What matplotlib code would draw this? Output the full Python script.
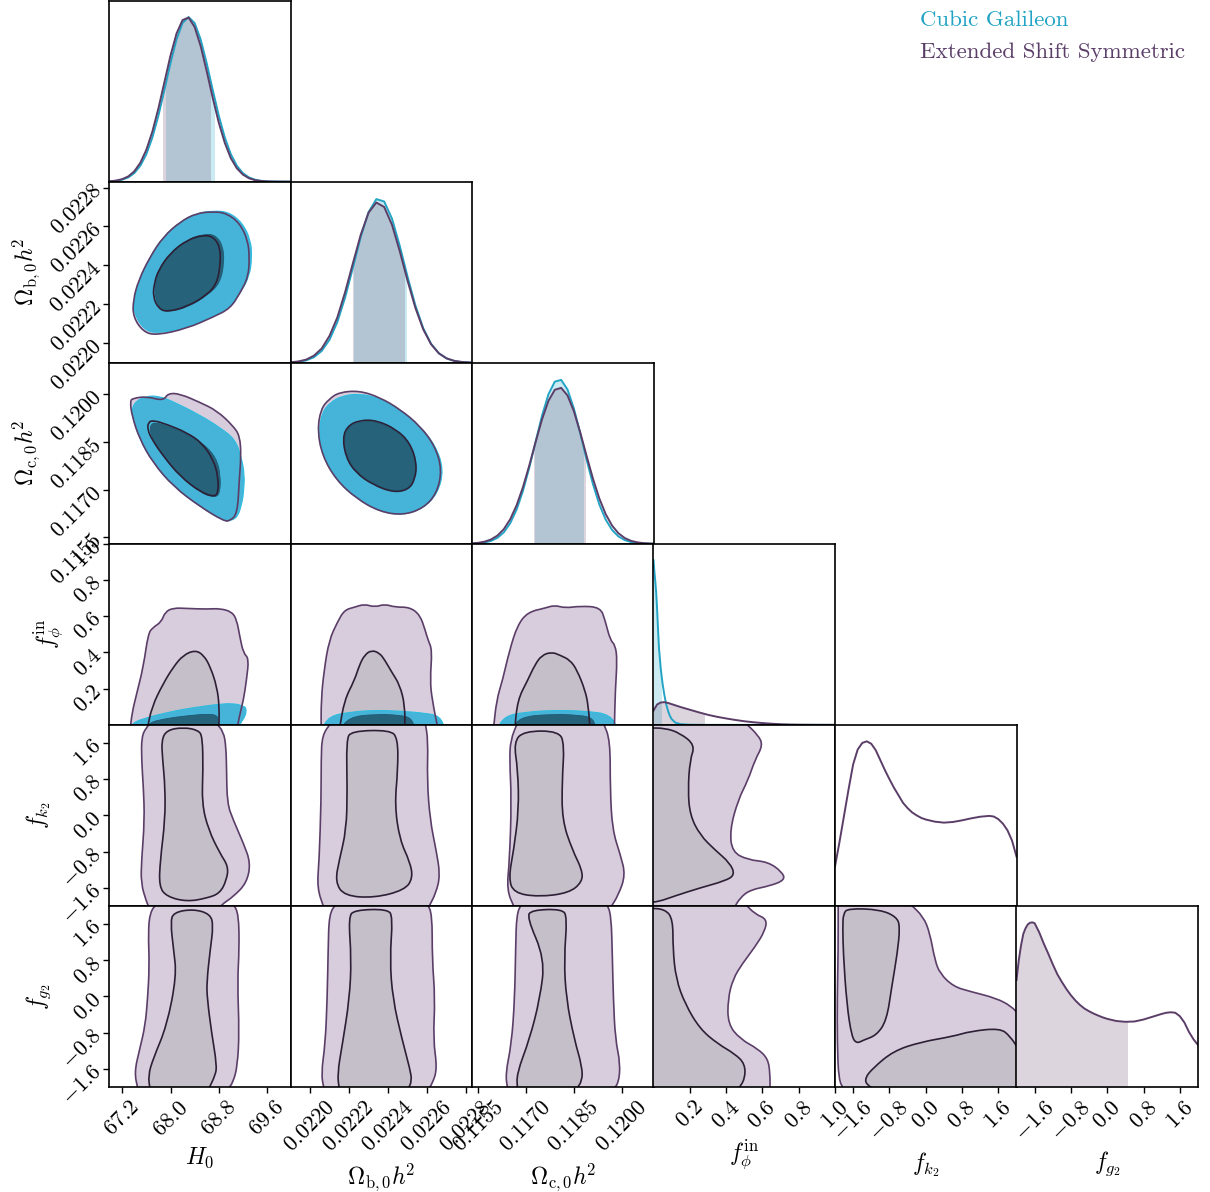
import matplotlib
matplotlib.use("Agg")
import matplotlib.pyplot as plt
from matplotlib.patches import PathPatch, Rectangle
from matplotlib.path import Path

plt.rcParams.update({
    "font.family": "serif",
    "font.serif": ["cmr10"],
    "mathtext.fontset": "cm",
    "axes.unicode_minus": False,
    "font.size": 16,
})

# ---------------------------------------------------------------- parameters
PARAM_LABELS = [r"$H_0$", r"$\Omega_{\rm b,0}h^{\!2}$", r"$\Omega_{\rm c,0}h^{\!2}$",
                r"$f_\phi^{\rm in}$", r"$f_{k_2}$", r"$f_{g_2}$"]
LIMITS = [(66.98, 69.99), (0.02190, 0.02283), (0.11530, 0.12100),
          (0.0, 1.0), (-2.0, 2.0), (-2.0, 2.0)]
TICKS = [[67.2, 68.0, 68.8, 69.6],
         [0.0220, 0.0222, 0.0224, 0.0226, 0.0228],
         [0.1155, 0.1170, 0.1185, 0.1200],
         [0.2, 0.4, 0.6, 0.8, 1.0],
         [-1.6, -0.8, 0.0, 0.8, 1.6],
         [-1.6, -0.8, 0.0, 0.8, 1.6]]
TICK_LABELS = [["67.2", "68.0", "68.8", "69.6"],
               ["0.0220", "0.0222", "0.0224", "0.0226", "0.0228"],
               ["0.1155", "0.1170", "0.1185", "0.1200"],
               ["0.2", "0.4", "0.6", "0.8", "1.0"],
               ["-1.6", "-0.8", "0.0", "0.8", "1.6"],
               ["-1.6", "-0.8", "0.0", "0.8", "1.6"]]

# ---------------------------------------------------------------- 1D marginals
H0_GRID = [66.9, 67.0, 67.1, 67.2, 67.3, 67.4, 67.5, 67.6, 67.7, 67.8, 67.9,
           68.0, 68.1, 68.2, 68.3, 68.4, 68.5, 68.6, 68.7, 68.8, 68.9, 69.0,
           69.1, 69.2, 69.3, 69.4, 69.5, 69.6, 69.7, 69.8, 69.9, 70.0]
ESS_H0_PDF = [0.0011, 0.0028, 0.0068, 0.0153, 0.032, 0.063, 0.115, 0.194,
              0.305, 0.446, 0.606, 0.766, 0.900, 0.982, 0.997, 0.940, 0.824,
              0.672, 0.510, 0.359, 0.236, 0.143, 0.081, 0.043, 0.021, 0.0095,
              0.004, 0.0016, 0.0006, 0.0002, 0.0001, 0.0]
CG_H0_PDF = [0.0008, 0.0021, 0.0052, 0.0121, 0.026, 0.052, 0.097, 0.167,
             0.269, 0.402, 0.558, 0.720, 0.864, 0.964, 1.0, 0.964, 0.864,
             0.720, 0.558, 0.402, 0.269, 0.167, 0.097, 0.052, 0.026, 0.0121,
             0.0052, 0.0021, 0.0008, 0.0003, 0.0001, 0.0]

OMB_GRID = [0.02186, 0.02190, 0.02194, 0.02198, 0.02202, 0.02206, 0.02210,
            0.02214, 0.02218, 0.02222, 0.02226, 0.02230, 0.02234, 0.02238,
            0.02242, 0.02246, 0.02250, 0.02254, 0.02258, 0.02262, 0.02266,
            0.02270, 0.02274, 0.02278, 0.02282, 0.02286]
ESS_OMB_PDF = [0.0010, 0.0028, 0.0077, 0.0188, 0.0428, 0.0867, 0.1635, 0.2754,
               0.4294, 0.6053, 0.7780, 0.9118, 0.9731, 0.9464, 0.8381, 0.6768,
               0.4975, 0.3331, 0.2031, 0.1130, 0.0572, 0.0264, 0.0111, 0.0043,
               0.0015, 0.0005]
CG_OMB_PDF = [0.0006, 0.0019, 0.0054, 0.0140, 0.0333, 0.0715, 0.1397, 0.2473,
              0.3969, 0.5781, 0.7637, 0.9149, 0.9941, 0.9796, 0.8754, 0.7098,
              0.5219, 0.3478, 0.2103, 0.1154, 0.0574, 0.0259, 0.0106, 0.0039,
              0.0013, 0.0004]

OMC_GRID = [0.1151, 0.1153, 0.1155, 0.1157, 0.1159, 0.1161, 0.1163, 0.1165,
            0.1167, 0.1169, 0.1171, 0.1173, 0.1175, 0.1177, 0.1179, 0.1181,
            0.1183, 0.1185, 0.1187, 0.1189, 0.1191, 0.1193, 0.1195, 0.1197,
            0.1199, 0.1201, 0.1203, 0.1205, 0.1207, 0.1209, 0.1211]
ESS_OMC_PDF = [0.0012, 0.0027, 0.0061, 0.0132, 0.0265, 0.0502, 0.0892, 0.1490,
               0.2336, 0.3441, 0.4763, 0.6193, 0.7564, 0.8680, 0.9356, 0.9473,
               0.9011, 0.8051, 0.6759, 0.5330, 0.3949, 0.2747, 0.1796, 0.1103,
               0.0637, 0.0345, 0.0176, 0.0085, 0.0038, 0.0016, 0.0007]
CG_OMC_PDF = [0.0005, 0.0013, 0.0034, 0.0080, 0.0177, 0.0365, 0.0698, 0.1249,
              0.2075, 0.3213, 0.4636, 0.6228, 0.7792, 0.9079, 0.9851, 0.9957,
              0.9372, 0.8216, 0.6710, 0.5105, 0.3612, 0.2383, 0.1465, 0.0838,
              0.0447, 0.0222, 0.0102, 0.0044, 0.0018, 0.0007, 0.0002]

CG_FPHI_GRID = [0.0, 0.005, 0.010, 0.015, 0.020, 0.025, 0.030, 0.040, 0.050,
                0.060, 0.070, 0.080, 0.090, 0.100, 0.120, 0.150, 0.200, 0.300, 1.0]
CG_FPHI_PDF = [1.0, 0.93, 0.87, 0.80, 0.70, 0.58, 0.47, 0.34, 0.25, 0.18,
               0.125, 0.085, 0.055, 0.035, 0.014, 0.004, 0.001, 0.0, 0.0]
ESS_FPHI_GRID = [0.0, 0.02, 0.04, 0.06, 0.08, 0.10, 0.15, 0.20, 0.25, 0.30,
                 0.35, 0.40, 0.45, 0.50, 0.55, 0.60, 0.65, 0.70, 0.75, 0.80,
                 0.90, 1.0]
ESS_FPHI_PDF = [0.087, 0.124, 0.136, 0.138, 0.133, 0.126, 0.108, 0.092, 0.076,
                0.061, 0.049, 0.039, 0.030, 0.022, 0.016, 0.011, 0.007, 0.004,
                0.002, 0.001, 0.0002, 0.0]

FK2_GRID = [-2.0, -1.9, -1.8, -1.7, -1.6, -1.5, -1.4, -1.3, -1.2, -1.1, -1.0,
            -0.9, -0.8, -0.7, -0.6, -0.5, -0.4, -0.3, -0.2, -0.1, 0.0, 0.2,
            0.4, 0.6, 0.8, 1.0, 1.2, 1.4, 1.5, 1.6, 1.7, 1.8, 1.9, 2.0]
ESS_FK2_PDF = [0.24, 0.39, 0.55, 0.71, 0.86, 0.95, 0.99, 1.0, 0.985, 0.945,
               0.885, 0.825, 0.77, 0.718, 0.672, 0.626, 0.594, 0.568, 0.550,
               0.535, 0.525, 0.512, 0.506, 0.510, 0.520, 0.532, 0.542, 0.547,
               0.543, 0.527, 0.500, 0.460, 0.398, 0.30]

FG2_GRID = [-2.0, -1.95, -1.9, -1.85, -1.8, -1.75, -1.7, -1.65, -1.6, -1.5,
            -1.4, -1.3, -1.2, -1.1, -1.0, -0.9, -0.8, -0.7, -0.6, -0.5, -0.4,
            -0.3, -0.2, -0.1, 0.0, 0.2, 0.4, 0.6, 0.8, 1.0, 1.2, 1.3, 1.4, 1.5,
            1.6, 1.7, 1.8, 1.9, 2.0]
ESS_FG2_PDF = [0.65, 0.77, 0.86, 0.93, 0.965, 0.988, 0.998, 1.0, 0.995, 0.94,
               0.872, 0.81, 0.745, 0.685, 0.638, 0.595, 0.557, 0.525, 0.498,
               0.476, 0.46, 0.446, 0.434, 0.423, 0.414, 0.401, 0.396, 0.398,
               0.41, 0.427, 0.444, 0.451, 0.454, 0.451, 0.43, 0.392, 0.335,
               0.29, 0.255]

# 68% credible intervals shaded under the 1D curves
CG_INTERVALS = {0: (67.93, 68.72), 1: (0.022225, 0.02249), 2: (0.11727, 0.11878),
                3: (0.0, 0.042)}
ESS_INTERVALS = {0: (67.87, 68.66), 1: (0.02222, 0.02248), 2: (0.11724, 0.11884),
                 3: (0.0, 0.28), 5: (-2.0, 0.43)}

# ---------------------------------------------------------------- 2D contours
# Cubic Galileon
CG_H0_OMB_95 = [(67.40, 0.022150), (67.56, 0.022070), (67.78, 0.022050), (68.27, 0.022080),
                (68.71, 0.022140), (68.99, 0.022185), (69.16, 0.022260), (69.31, 0.022345),
                (69.35, 0.022440), (69.33, 0.022530), (69.19, 0.022620), (68.96, 0.022675),
                (68.71, 0.022680), (68.43, 0.022668), (68.16, 0.022624), (67.88, 0.022547),
                (67.66, 0.022444), (67.48, 0.022324), (67.40, 0.022225)]
CG_H0_OMB_68 = [(67.74, 0.022235), (67.83, 0.022175), (67.97, 0.022160), (68.30, 0.022187),
                (68.63, 0.022250), (68.82, 0.022310), (68.89, 0.022410), (68.87, 0.022500),
                (68.75, 0.022555), (68.57, 0.022562), (68.29, 0.022535), (68.01, 0.022465),
                (67.82, 0.022378), (67.75, 0.022307)]
CG_H0_OMC_95 = [(67.38, 0.11973), (67.60, 0.11996), (67.83, 0.11994), (68.05, 0.11977),
                (68.49, 0.11935), (68.82, 0.11896), (69.07, 0.11859), (69.17, 0.11806),
                (69.23, 0.11747), (69.21, 0.11689), (69.19, 0.11663), (69.12, 0.11615),
                (68.99, 0.11602), (68.88, 0.11602), (68.49, 0.11647), (68.05, 0.11710),
                (67.71, 0.11785), (67.49, 0.11859), (67.36, 0.11933)]
CG_H0_OMC_68 = [(67.67, 0.11905), (67.75, 0.11912), (67.96, 0.11900), (68.28, 0.11875),
                (68.55, 0.11845), (68.76, 0.11800), (68.83, 0.11745), (68.82, 0.11690),
                (68.74, 0.11675), (68.50, 0.11690), (68.18, 0.11740), (67.90, 0.11803),
                (67.72, 0.11855), (67.66, 0.11885)]
CG_OMB_OMC_95 = [(0.022045, 0.11880), (0.022062, 0.11945), (0.022105, 0.11975),
                 (0.022160, 0.11995), (0.022253, 0.12003), (0.022357, 0.11988),
                 (0.022460, 0.11954), (0.022564, 0.11901), (0.022645, 0.11837),
                 (0.022685, 0.11763), (0.022655, 0.11689), (0.022581, 0.11642),
                 (0.022477, 0.11620), (0.022357, 0.11631), (0.022236, 0.11673),
                 (0.022133, 0.11732), (0.022066, 0.11806)]
CG_OMB_OMC_68 = [(0.022172, 0.11862), (0.022197, 0.11898), (0.022255, 0.11915),
                 (0.022340, 0.11915), (0.022440, 0.11887), (0.022508, 0.11846),
                 (0.022543, 0.11785), (0.022535, 0.11734), (0.022500, 0.11703),
                 (0.022426, 0.11695), (0.022324, 0.11719), (0.022240, 0.11755),
                 (0.022190, 0.11800)]
CG_H0_FPHI_95 = [(67.36, -0.03), (67.36, 0.012), (67.66, 0.045), (67.94, 0.067),
                 (68.21, 0.086), (68.49, 0.100), (68.77, 0.113), (69.04, 0.119),
                 (69.21, 0.104), (69.26, 0.091), (69.24, 0.045), (69.15, 0.008),
                 (69.15, -0.03)]
CG_H0_FPHI_68 = [(67.63, -0.03), (67.63, 0.012), (67.94, 0.036), (68.27, 0.050),
                 (68.60, 0.060), (68.77, 0.054), (68.79, 0.026), (68.77, -0.03)]
CG_OMB_FPHI_95 = [(0.022057, -0.03), (0.022098, 0.048), (0.022202, 0.070),
                  (0.022331, 0.081), (0.022460, 0.076), (0.022590, 0.065),
                  (0.022667, 0.048), (0.022693, -0.03)]
CG_OMB_FPHI_68 = [(0.022150, -0.03), (0.022202, 0.043), (0.022331, 0.059),
                  (0.022460, 0.054), (0.022522, 0.037), (0.022538, -0.03)]
CG_OMC_FPHI_95 = [(0.11607, -0.03), (0.11632, 0.048), (0.11695, 0.070),
                  (0.11790, 0.081), (0.11885, 0.076), (0.11964, 0.059),
                  (0.11990, -0.03)]
CG_OMC_FPHI_68 = [(0.11654, -0.03), (0.11680, 0.043), (0.11775, 0.059),
                  (0.11869, 0.054), (0.11911, 0.037), (0.11920, -0.03)]

# Extended Shift Symmetric
ESS_H0_OMB_95 = [(67.38, 0.022135), (67.55, 0.022058), (67.77, 0.022041), (68.27, 0.022076),
                 (68.71, 0.022135), (68.99, 0.022179), (69.15, 0.022256), (69.29, 0.022341),
                 (69.31, 0.022444), (69.28, 0.022530), (69.15, 0.022616), (68.93, 0.022668),
                 (68.71, 0.022676), (68.43, 0.022668), (68.16, 0.022624), (67.88, 0.022547),
                 (67.66, 0.022444), (67.47, 0.022324), (67.38, 0.022221)]
ESS_H0_OMB_68 = [(67.71, 0.022238), (67.80, 0.022179), (67.94, 0.022161), (68.27, 0.022187),
                 (68.60, 0.022247), (68.77, 0.022307), (68.83, 0.022410), (68.82, 0.022496),
                 (68.71, 0.022547), (68.54, 0.022556), (68.27, 0.022530), (67.99, 0.022462),
                 (67.80, 0.022376), (67.73, 0.022307)]
ESS_H0_OMC_95 = [(67.33, 0.11980), (67.38, 0.11988), (67.60, 0.11994), (67.88, 0.11980),
                 (67.96, 0.12004), (68.16, 0.12002), (68.49, 0.11975), (68.77, 0.11949),
                 (69.04, 0.11901), (69.15, 0.11869), (69.17, 0.11806), (69.14, 0.11732),
                 (69.11, 0.11626), (68.99, 0.11602), (68.88, 0.11602), (68.49, 0.11647),
                 (68.05, 0.11710), (67.71, 0.11785), (67.49, 0.11859), (67.36, 0.11933)]
ESS_H0_OMC_68 = [(67.63, 0.11912), (67.71, 0.11919), (67.94, 0.11906), (68.27, 0.11880),
                 (68.52, 0.11848), (68.71, 0.11795), (68.79, 0.11742), (68.79, 0.11689),
                 (68.71, 0.11678), (68.49, 0.11694), (68.16, 0.11742), (67.88, 0.11806),
                 (67.69, 0.11859), (67.62, 0.11890)]
ESS_OMB_OMC_95 = [(0.022038, 0.11885), (0.022055, 0.11954), (0.022098, 0.11986),
                  (0.022150, 0.12007), (0.022253, 0.12012), (0.022357, 0.11991),
                  (0.022460, 0.11954), (0.022564, 0.11901), (0.022641, 0.11837),
                  (0.022676, 0.11763), (0.022650, 0.11689), (0.022581, 0.11642),
                  (0.022477, 0.11620), (0.022357, 0.11631), (0.022236, 0.11673),
                  (0.022133, 0.11732), (0.022064, 0.11806)]
ESS_OMB_OMC_68 = [(0.022167, 0.11864), (0.022193, 0.11901), (0.022253, 0.11919),
                  (0.022340, 0.11919), (0.022443, 0.11890), (0.022512, 0.11848),
                  (0.022547, 0.11785), (0.022538, 0.11732), (0.022503, 0.11700),
                  (0.022426, 0.11692), (0.022322, 0.11716), (0.022236, 0.11753),
                  (0.022185, 0.11800)]
ESS_H0_FPHI_95 = [(67.33, -0.03), (67.36, 0.063), (67.44, 0.174), (67.55, 0.321),
                  (67.63, 0.505), (67.71, 0.538), (67.85, 0.569), (67.91, 0.624),
                  (68.05, 0.646), (68.27, 0.643), (68.60, 0.639), (68.82, 0.643),
                  (69.02, 0.624), (69.10, 0.578), (69.15, 0.486), (69.21, 0.395),
                  (69.30, 0.367), (69.26, 0.247), (69.21, 0.137), (69.14, 0.045),
                  (69.10, -0.03)]
ESS_H0_FPHI_68 = [(67.61, -0.03), (67.69, 0.100), (67.88, 0.229), (68.05, 0.321),
                  (68.21, 0.385), (68.41, 0.413), (68.55, 0.385), (68.66, 0.321),
                  (68.77, 0.210), (68.81, 0.100), (68.80, -0.03)]
ESS_OMB_FPHI_95 = [(0.022057, -0.03), (0.022057, 0.137), (0.022072, 0.302),
                   (0.022098, 0.468), (0.022140, 0.567), (0.022176, 0.634),
                   (0.022228, 0.650), (0.022279, 0.667), (0.022331, 0.650),
                   (0.022383, 0.667), (0.022434, 0.650), (0.022512, 0.650),
                   (0.022564, 0.606), (0.022590, 0.523), (0.022605, 0.468),
                   (0.022626, 0.413), (0.022615, 0.247), (0.022626, 0.137),
                   (0.022657, -0.03)]
ESS_OMB_FPHI_68 = [(0.022150, -0.03), (0.022176, 0.137), (0.022228, 0.247),
                   (0.022253, 0.330), (0.022279, 0.385), (0.022315, 0.413),
                   (0.022357, 0.396), (0.022383, 0.358), (0.022419, 0.291),
                   (0.022460, 0.220), (0.022486, 0.109), (0.022486, -0.03)]
ESS_OMC_FPHI_95 = [(0.11597, -0.03), (0.11607, 0.137), (0.11626, 0.247),
                   (0.11648, 0.413), (0.11673, 0.551), (0.11705, 0.622),
                   (0.11759, 0.645), (0.11790, 0.661), (0.11822, 0.645),
                   (0.11869, 0.656), (0.11933, 0.650), (0.11948, 0.578),
                   (0.11964, 0.468), (0.11980, 0.441), (0.11986, 0.358),
                   (0.11980, 0.192), (0.11977, -0.03)]
ESS_OMC_FPHI_68 = [(0.11664, -0.03), (0.11673, 0.137), (0.11705, 0.247),
                   (0.11727, 0.330), (0.11749, 0.385), (0.11781, 0.402),
                   (0.11806, 0.385), (0.11838, 0.358), (0.11860, 0.302),
                   (0.11885, 0.192), (0.11895, 0.109), (0.11901, -0.03)]
ESS_H0_FK2_95 = [(67.52, 1.737), (67.60, 1.945), (67.68, 2.05), (68.75, 2.05),
                 (68.88, 1.848), (68.92, 1.517), (68.93, 1.002), (68.94, 0.267),
                 (69.04, -0.102), (69.21, -0.616), (69.33, -1.057), (69.26, -1.499),
                 (69.04, -1.795), (68.88, -1.940), (68.80, -2.05), (67.65, -2.05),
                 (67.60, -1.905), (67.51, -1.499), (67.52, -0.985), (67.57, -0.102),
                 (67.55, 0.634), (67.52, 1.223)]
ESS_H0_FK2_68 = [(67.85, 1.664), (67.94, 1.885), (68.21, 1.945), (68.46, 1.885),
                 (68.53, 1.737), (68.54, 1.002), (68.52, 0.267), (68.63, -0.322),
                 (68.82, -0.837), (68.96, -1.132), (68.93, -1.426), (68.82, -1.720),
                 (68.60, -1.830), (68.27, -1.905), (67.94, -1.795), (67.81, -1.574),
                 (67.83, -0.985), (67.91, -0.102), (67.91, 0.634), (67.87, 1.223)]
ESS_OMB_FK2_95 = [(0.022062, 1.775), (0.022109, 2.05), (0.022590, 2.05),
                  (0.022605, 1.665), (0.022600, 0.782), (0.022615, -0.101),
                  (0.022646, -0.763), (0.022667, -1.315), (0.022646, -1.710),
                  (0.022605, -2.05), (0.022072, -2.05), (0.022036, -1.600),
                  (0.022047, -0.984), (0.022057, 0.342), (0.022057, 1.225)]
ESS_OMB_FK2_68 = [(0.022186, 1.670), (0.022212, 1.863), (0.022409, 1.885),
                  (0.022450, 1.709), (0.022450, 1.003), (0.022434, 0.230),
                  (0.022460, -0.543), (0.022512, -1.028), (0.022527, -1.381),
                  (0.022486, -1.646), (0.022331, -1.822), (0.022176, -1.778),
                  (0.022129, -1.469), (0.022150, -0.984), (0.022186, -0.322),
                  (0.022191, 0.561)]
ESS_OMC_FK2_95 = [(0.11651, 1.665), (0.11673, 2.05), (0.11942, 2.05),
                  (0.11964, 1.665), (0.11964, 0.562), (0.11971, -0.320),
                  (0.11996, -0.873), (0.12012, -1.315), (0.11990, -1.757),
                  (0.11964, -2.05), (0.11664, -2.05), (0.11639, -1.650),
                  (0.11648, -0.984), (0.11654, 0.342), (0.11648, 1.225)]
ESS_OMC_FK2_68 = [(0.11661, 1.620), (0.11693, 1.863), (0.11804, 1.863),
                  (0.11820, 1.554), (0.11813, 0.782), (0.11813, -0.101),
                  (0.11845, -0.763), (0.11876, -1.205), (0.11876, -1.470),
                  (0.11835, -1.713), (0.11740, -1.800), (0.11661, -1.713),
                  (0.11645, -1.381), (0.11661, -0.763), (0.11677, 0.120),
                  (0.11674, 1.003)]
ESS_FPHI_FK2_95 = [(-0.03, 2.05), (0.504, 2.05), (0.576, 1.775), (0.603, 1.554),
                   (0.559, 1.223), (0.521, 0.782), (0.466, 0.341), (0.421, -0.320),
                   (0.433, -0.806), (0.521, -0.983), (0.631, -1.027), (0.708, -1.248),
                   (0.725, -1.425), (0.642, -1.557), (0.532, -1.646), (0.477, -1.822),
                   (0.443, -2.05), (-0.03, -2.05)]
ESS_FPHI_FK2_68 = [(-0.03, 1.93), (0.063, 1.93), (0.146, 1.819), (0.229, 1.554),
                   (0.201, 1.223), (0.190, 0.561), (0.201, 0.009), (0.256, -0.433),
                   (0.339, -0.764), (0.421, -1.050), (0.449, -1.315), (0.394, -1.447),
                   (0.256, -1.602), (0.118, -1.779), (0.025, -1.910), (-0.03, -1.92)]
ESS_H0_FG2_95 = [(67.66, 1.858), (67.77, 2.05), (69.04, 2.05), (69.13, 1.821),
                 (69.14, 1.048), (69.11, 0.313), (69.14, -0.791), (69.11, -1.528),
                 (69.04, -1.894), (68.95, -2.05), (67.46, -2.05), (67.40, -1.674),
                 (67.49, -1.159), (67.58, -0.645), (67.62, -0.056), (67.65, 0.679),
                 (67.63, 1.417)]
ESS_H0_FG2_68 = [(68.00, 1.638), (68.05, 1.858), (68.38, 1.931), (68.66, 1.821),
                 (68.71, 1.562), (68.66, 1.048), (68.60, 0.313), (68.61, -0.056),
                 (68.68, -0.791), (68.77, -1.528), (68.74, -1.749), (68.63, -2.05),
                 (67.66, -2.05), (67.63, -1.749), (67.71, -1.380), (67.94, -0.645),
                 (68.10, 0.459), (68.05, 1.048)]
ESS_OMB_FG2_95 = [(0.022098, 1.821), (0.022134, 2.05), (0.022600, 2.05),
                  (0.022626, 1.821), (0.022626, 0.827), (0.022641, -0.056),
                  (0.022631, -0.939), (0.022652, -1.601), (0.022626, -1.932),
                  (0.022605, -2.05), (0.022072, -2.05), (0.022057, -1.711),
                  (0.022078, -1.049), (0.022088, -0.056), (0.022093, 1.048)]
ESS_OMB_FG2_68 = [(0.022197, 1.755), (0.022228, 1.909), (0.022398, 1.931),
                  (0.022424, 1.755), (0.022409, 0.827), (0.022424, -0.056),
                  (0.022471, -0.939), (0.022512, -1.601), (0.022522, -1.866),
                  (0.022502, -2.05), (0.022150, -2.05), (0.022140, -1.711),
                  (0.022166, -1.049), (0.022202, -0.056), (0.022212, 0.827)]
ESS_OMC_FG2_95 = [(0.11670, 1.821), (0.11686, 2.05), (0.11952, 2.05),
                  (0.11967, 1.821), (0.11971, 0.827), (0.11974, -0.056),
                  (0.11980, -0.939), (0.11996, -1.490), (0.11990, -1.932),
                  (0.11971, -2.05), (0.11642, -2.05), (0.11635, -1.711),
                  (0.11654, -1.049), (0.11664, -0.056), (0.11667, 1.048)]
ESS_OMC_FG2_68 = [(0.11702, 1.755), (0.11718, 1.909), (0.11813, 1.931),
                  (0.11829, 1.755), (0.11819, 0.827), (0.11826, -0.056),
                  (0.11851, -0.939), (0.11876, -1.557), (0.11876, -1.866),
                  (0.11857, -2.05), (0.11673, -2.05), (0.11670, -1.711),
                  (0.11711, -0.939), (0.11743, -0.056), (0.11759, 0.827)]
ESS_FPHI_FG2_95 = [(-0.03, 2.05), (0.504, 2.05), (0.559, 1.821), (0.625, 1.710),
                   (0.614, 1.446), (0.559, 1.093), (0.488, 0.717), (0.438, 0.386),
                   (0.410, -0.056), (0.410, -0.608), (0.477, -0.939), (0.576, -1.159),
                   (0.631, -1.380), (0.642, -1.711), (0.642, -2.05), (-0.03, -2.05)]
ESS_FPHI_FG2_68 = [(-0.03, 1.95), (0.063, 1.931), (0.107, 1.710), (0.107, 1.048),
                   (0.124, 0.386), (0.174, -0.166), (0.256, -0.718), (0.355, -1.049),
                   (0.449, -1.270), (0.504, -1.490), (0.504, -1.822), (0.466, -2.05),
                   (-0.03, -2.05)]
ESS_FK2_FG2_95 = [(-1.93, 2.05), (-0.35, 2.05), (-0.05, 1.76), (0.09, 1.40),
                  (0.20, 0.81), (0.31, 0.51), (0.61, 0.22), (0.98, 0.11),
                  (1.56, -0.04), (1.89, -0.22), (2.05, -0.40), (2.05, -2.05),
                  (-1.80, -2.05), (-1.92, -1.85), (-1.95, -1.0), (-1.95, 0.0),
                  (-1.93, 1.0)]
ESS_FK2_FG2_68A = [(-1.817, 1.834), (-1.707, 1.945), (-1.008, 1.920), (-0.640, 1.757),
                   (-0.567, 1.536), (-0.627, 0.948), (-0.750, 0.212), (-0.861, -0.524),
                   (-1.081, -0.855), (-1.376, -0.966), (-1.522, -1.039), (-1.632, -0.892),
                   (-1.742, -0.156), (-1.817, 0.948), (-1.830, 1.536)]
ESS_FK2_FG2_68B = [(-1.10, -2.05), (-1.30, -1.96), (-1.34, -1.80), (-1.16, -1.58),
                   (-0.72, -1.21), (-0.13, -1.01), (0.61, -0.88), (0.98, -0.77),
                   (1.64, -0.70), (1.86, -0.88), (2.05, -1.17), (2.05, -2.05)]

# ---------------------------------------------------------------- styling
CG_LINE = "#23a4c5"
CG_EDGE = "#2cbde0"
CG_FILL_95 = "#45b4d8"
CG_FILL_68 = "#26637b"
ESS_LINE = "#5b3e68"
ESS_LINE_68 = "#2d1f35"
ESS_FILL_95 = "#d8cddd"
ESS_FILL_68 = "#c4bfc8"

# (column parameter, row parameter) -> contours
CG_2D = {
    (0, 1): (CG_H0_OMB_95, [CG_H0_OMB_68]),
    (0, 2): (CG_H0_OMC_95, [CG_H0_OMC_68]),
    (1, 2): (CG_OMB_OMC_95, [CG_OMB_OMC_68]),
    (0, 3): (CG_H0_FPHI_95, [CG_H0_FPHI_68]),
    (1, 3): (CG_OMB_FPHI_95, [CG_OMB_FPHI_68]),
    (2, 3): (CG_OMC_FPHI_95, [CG_OMC_FPHI_68]),
}
ESS_2D = {
    (0, 1): (ESS_H0_OMB_95, [ESS_H0_OMB_68]),
    (0, 2): (ESS_H0_OMC_95, [ESS_H0_OMC_68]),
    (1, 2): (ESS_OMB_OMC_95, [ESS_OMB_OMC_68]),
    (0, 3): (ESS_H0_FPHI_95, [ESS_H0_FPHI_68]),
    (1, 3): (ESS_OMB_FPHI_95, [ESS_OMB_FPHI_68]),
    (2, 3): (ESS_OMC_FPHI_95, [ESS_OMC_FPHI_68]),
    (0, 4): (ESS_H0_FK2_95, [ESS_H0_FK2_68]),
    (1, 4): (ESS_OMB_FK2_95, [ESS_OMB_FK2_68]),
    (2, 4): (ESS_OMC_FK2_95, [ESS_OMC_FK2_68]),
    (3, 4): (ESS_FPHI_FK2_95, [ESS_FPHI_FK2_68]),
    (0, 5): (ESS_H0_FG2_95, [ESS_H0_FG2_68]),
    (1, 5): (ESS_OMB_FG2_95, [ESS_OMB_FG2_68]),
    (2, 5): (ESS_OMC_FG2_95, [ESS_OMC_FG2_68]),
    (3, 5): (ESS_FPHI_FG2_95, [ESS_FPHI_FG2_68]),
    (4, 5): (ESS_FK2_FG2_95, [ESS_FK2_FG2_68A, ESS_FK2_FG2_68B]),
}
CG_1D = {0: (H0_GRID, CG_H0_PDF), 1: (OMB_GRID, CG_OMB_PDF),
         2: (OMC_GRID, CG_OMC_PDF), 3: (CG_FPHI_GRID, CG_FPHI_PDF)}
ESS_1D = {0: (H0_GRID, ESS_H0_PDF), 1: (OMB_GRID, ESS_OMB_PDF),
          2: (OMC_GRID, ESS_OMC_PDF), 3: (ESS_FPHI_GRID, ESS_FPHI_PDF),
          4: (FK2_GRID, ESS_FK2_PDF), 5: (FG2_GRID, ESS_FG2_PDF)}


def contour_patch(verts, xlim, ylim, **kw):
    """Closed contour drawn as a chain of quadratic Bezier segments that use
    the contour vertices as control points.  Vertices lying outside the
    panel (where a contour is cut by the prior range) are kept as sharp
    corners so the region still fills up to the panel edge."""
    pts_in = []
    for x, y in verts:
        outside = x < xlim[0] or x > xlim[1] or y < ylim[0] or y > ylim[1]
        pts_in.append((x, y))
        if outside:
            pts_in.append((x, y))
    n = len(pts_in)
    mids = [((pts_in[i][0] + pts_in[(i + 1) % n][0]) / 2,
             (pts_in[i][1] + pts_in[(i + 1) % n][1]) / 2) for i in range(n)]
    pts = [mids[-1]]
    codes = [Path.MOVETO]
    for i in range(n):
        pts += [pts_in[i], mids[i]]
        codes += [Path.CURVE3, Path.CURVE3]
    pts.append(mids[-1])
    codes.append(Path.CLOSEPOLY)
    return PathPatch(Path(pts, codes), **kw)


def shade_1d(ax, x, y, lo, hi, color, alpha):
    poly = ax.fill_between(x, 0, y, color=color, alpha=alpha, lw=0, zorder=1)
    clip = Rectangle((lo, -1), hi - lo, 3, transform=ax.transData)
    poly.set_clip_path(clip)


# ---------------------------------------------------------------- figure
fig = plt.figure(figsize=(12.1, 11.92), dpi=100)
N = 6
left, right = 109 / 1210, 1198 / 1210
top, bottom = 1 - 0.6 / 1192, 1 - 1087 / 1192
w = (right - left) / N
h = (top - bottom) / N

for row in range(N):
    for col in range(row + 1):
        ax = fig.add_axes([left + col * w, top - (row + 1) * h, w, h])
        ax.set_xlim(*LIMITS[col])
        if row == col:
            ax.set_ylim(0, 1.1)
            if col in CG_1D:
                x, y = CG_1D[col]
                if col in CG_INTERVALS:
                    shade_1d(ax, x, y, *CG_INTERVALS[col], "#1aa3c3", 0.22)
                ax.plot(x, y, color=CG_LINE, lw=1.4, zorder=3)
            x, y = ESS_1D[col]
            if col in ESS_INTERVALS:
                shade_1d(ax, x, y, *ESS_INTERVALS[col], "#5a3c66", 0.21)
            ax.plot(x, y, color=ESS_LINE, lw=1.4, zorder=4)
        else:
            ax.set_ylim(*LIMITS[row])
            xl, yl = LIMITS[col], LIMITS[row]
            key = (col, row)
            ess_outer, ess_inner = ESS_2D[key]
            ax.add_patch(contour_patch(ess_outer, xl, yl, fc=ESS_FILL_95,
                                       ec="none", zorder=1))
            for poly in ess_inner:
                ax.add_patch(contour_patch(poly, xl, yl, fc=ESS_FILL_68,
                                           ec="none", zorder=2))
            if key in CG_2D:
                cg_outer, cg_inner = CG_2D[key]
                ax.add_patch(contour_patch(cg_outer, xl, yl, fc=CG_FILL_95,
                                           ec=CG_EDGE, lw=0.8, zorder=3))
                for poly in cg_inner:
                    ax.add_patch(contour_patch(poly, xl, yl, fc=CG_FILL_68,
                                               ec="#1f5870", lw=0.6, zorder=4))
            ax.add_patch(contour_patch(ess_outer, xl, yl, fill=False,
                                       ec=ESS_LINE, lw=1.2, zorder=5))
            for poly in ess_inner:
                ax.add_patch(contour_patch(poly, xl, yl, fill=False,
                                           ec=ESS_LINE_68, lw=1.2, zorder=6))

        for sp in ax.spines.values():
            sp.set_linewidth(1.2)
            sp.set_zorder(10)
        ax.tick_params(direction="out", length=4, width=1.0, labelsize=16)

        if row == N - 1:
            ax.set_xticks(TICKS[col])
            ax.set_xticklabels(["$%s$" % t for t in TICK_LABELS[col]], rotation=45)
            ax.set_xlabel(PARAM_LABELS[col], fontsize=17)
        else:
            ax.set_xticks([])
        if col == 0 and row > 0:
            ax.set_yticks(TICKS[row])
            ax.set_yticklabels(["$%s$" % t for t in TICK_LABELS[row]], rotation=45,
                               ha="right", va="center", rotation_mode="anchor")
            ax.set_ylabel(PARAM_LABELS[row], fontsize=17)
        else:
            ax.set_yticks([])

fig.text(920 / 1210, 1 - 26 / 1192, "Cubic Galileon", color=CG_LINE,
         fontsize=16.5, ha="left", va="baseline")
fig.text(920 / 1210, 1 - 58 / 1192, "Extended Shift Symmetric", color=ESS_LINE,
         fontsize=16.5, ha="left", va="baseline")

fig.savefig("out.png", dpi=100)
